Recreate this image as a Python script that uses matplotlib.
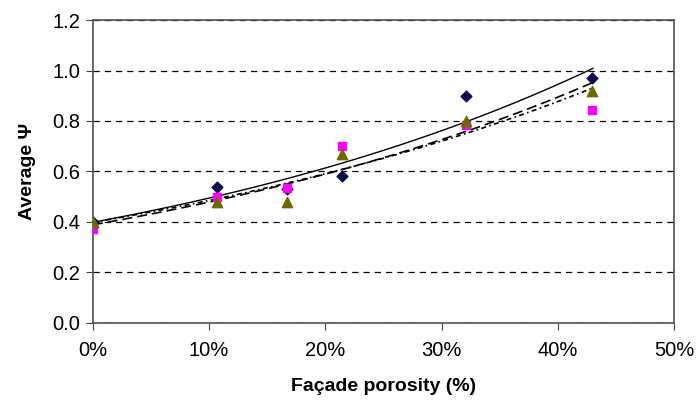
import numpy as np
import matplotlib
matplotlib.use("Agg")
import matplotlib.pyplot as plt
from matplotlib.ticker import FuncFormatter

plt.rcParams['font.family'] = ['Liberation Sans', 'DejaVu Sans']

# porosity (%) of the tested facades
porosity = [0.0, 10.7, 16.7, 21.4, 32.1, 42.9]
# average psi for the three data sets
psi_diamond = [0.40, 0.54, 0.53, 0.58, 0.90, 0.97]
psi_square = [0.37, 0.50, 0.535, 0.70, 0.785, 0.845]
psi_triangle = [0.40, 0.48, 0.48, 0.67, 0.80, 0.92]

fig = plt.figure(figsize=(6.98, 4.01), dpi=100)
ax = fig.add_axes([0.133, 0.195, 0.833, 0.755])

x = np.array(porosity)
xs = np.linspace(0, 43, 100)

# exponential trend lines (like excel), fitted on log values
def expfit(y):
    b, lna = np.polyfit(x, np.log(y), 1)
    return np.exp(lna) * np.exp(b * xs)

ax.plot(xs, expfit(psi_diamond), color='black', lw=1.0, ls='-', zorder=2)
ax.plot(xs, expfit(psi_triangle), color='black', lw=1.2, ls=(0, (6, 3)), zorder=2)
ax.plot(xs, expfit(psi_square), color='black', lw=1.2, ls=(0, (3, 2, 1, 2)), zorder=2)

ax.scatter(x, psi_diamond, marker='D', s=30, color='#0b0b50', zorder=3)
ax.scatter(x, psi_square, marker='s', s=40, color='#ff00ff', zorder=4)
ax.scatter(x, psi_triangle, marker='^', s=55, color='#6b6b00', zorder=5)

ax.set_xlim(0, 50)
ax.set_ylim(0, 1.2)
ax.set_xticks(np.arange(0, 51, 10))
ax.set_yticks(np.arange(0, 1.21, 0.2))
ax.xaxis.set_major_formatter(FuncFormatter(lambda v, p: f"{v:.0f}%"))
ax.yaxis.set_major_formatter(FuncFormatter(lambda v, p: f"{v:.1f}"))
ax.tick_params(direction='out', length=5, labelsize=14.5, color='#404040', pad=4)
ax.tick_params(axis='x', pad=8)

ax.yaxis.grid(True, ls=(0, (5, 4)), color='black', lw=0.9)
ax.set_axisbelow(True)
for s in ax.spines.values():
    s.set_color('#505050')
    s.set_linewidth(1.2)

ax.set_xlabel("Façade porosity (%)", fontsize=14, fontweight='bold', labelpad=13)
ax.set_ylabel("Average \u03a8", fontsize=14, fontweight='bold', labelpad=12)

fig.savefig("out.png", dpi=100)
